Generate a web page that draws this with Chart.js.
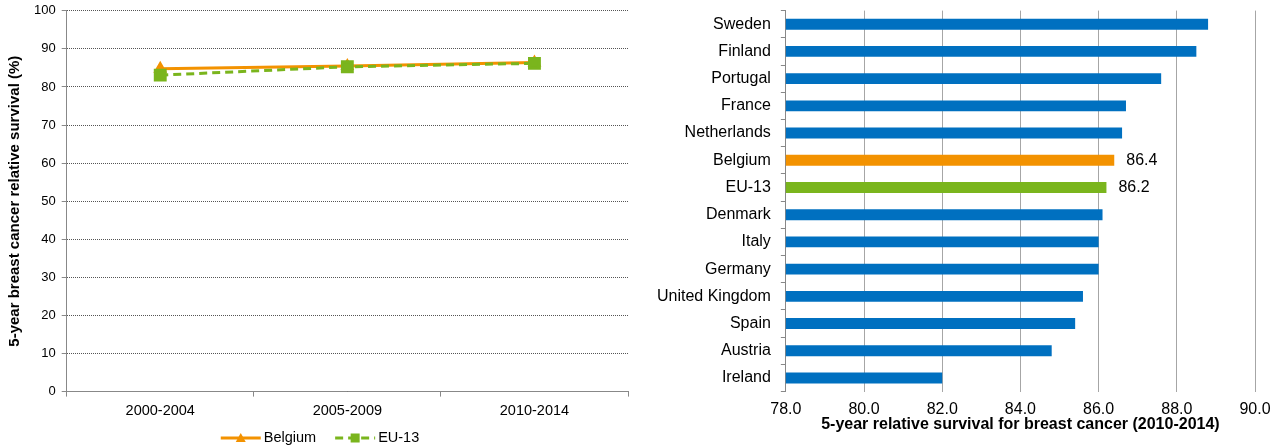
<!DOCTYPE html>
<html>
<head>
<meta charset="utf-8">
<script src="https://cdn.jsdelivr.net/npm/chart.js@4/dist/chart.umd.min.js"></script>
<style>
  body { margin: 0; background: #fff; overflow: hidden; }
  #left { position: absolute; left: 0; top: -3px; width: 640px; height: 451px; }
  #right { position: absolute; left: 640px; top: -9px; width: 640px; height: 457px; }
</style>
</head>
<body>
<div id="left"><canvas id="trendChart"></canvas></div>
<div id="right"><canvas id="rankChart"></canvas></div>
<script>
const periods = ['2000-2004', '2005-2009', '2010-2014'];
const belgiumTrend = [84.8, 85.5, 86.4];
const eu13Trend = [83.1, 85.3, 86.2];

const countries = ['Sweden', 'Finland', 'Portugal', 'France', 'Netherlands', 'Belgium', 'EU-13',
  'Denmark', 'Italy', 'Germany', 'United Kingdom', 'Spain', 'Austria', 'Ireland'];
const survival2014 = [88.8, 88.5, 87.6, 86.7, 86.6, 86.4, 86.2, 86.1, 86.0, 86.0, 85.6, 85.4, 84.8, 82.0];
const labelled = ['Belgium', 'EU-13'];

const orange = '#F39200';
const green = '#7AB51D';
const blue = '#0070C0';
const font = 'Liberation Sans, Arial, sans-serif';

Chart.defaults.font.family = font;
Chart.defaults.color = '#000';

// legend with line + marker, like the spreadsheet one
const lineLegend = {
  id: 'lineLegend',
  afterDraw(chart) {
    const c = chart.ctx;
    const y = chart.height - 10;
    c.save();
    c.font = '14.5px ' + font;
    const items = chart.data.datasets.map(ds => ({ ds: ds, w: 40 + 3 + c.measureText(ds.label).width }));
    const gap = 19;
    let total = items.reduce((s, it) => s + it.w, 0) + gap * (items.length - 1);
    let x = (chart.width - total) / 2;
    items.forEach(it => {
      const ds = it.ds;
      c.strokeStyle = ds.borderColor;
      c.lineWidth = ds.borderWidth;
      c.setLineDash(ds.borderDash || []);
      c.beginPath();
      c.moveTo(x, y);
      c.lineTo(x + 40, y);
      c.stroke();
      c.setLineDash([]);
      c.fillStyle = ds.pointBackgroundColor;
      const mx = x + 20;
      if (ds.pointStyle === 'triangle') {
        c.beginPath();
        c.moveTo(mx, y - 5);
        c.lineTo(mx + 5, y + 4);
        c.lineTo(mx - 5, y + 4);
        c.closePath();
        c.fill();
      } else {
        c.fillRect(mx - 4.5, y - 4.5, 9, 9);
      }
      c.fillStyle = '#000';
      c.textBaseline = 'middle';
      c.fillText(ds.label, x + 43, y);
      x += it.w + gap;
    });
    c.restore();
  }
};

new Chart(document.getElementById('trendChart'), {
  type: 'line',
  data: {
    labels: periods,
    datasets: [
      {
        label: 'Belgium', data: belgiumTrend, order: 1,
        borderColor: orange, backgroundColor: orange, borderWidth: 3,
        pointStyle: 'triangle', pointRadius: 5, pointBackgroundColor: orange, pointBorderColor: orange,
        tension: 0
      },
      {
        label: 'EU-13', data: eu13Trend, order: 0,
        borderColor: green, backgroundColor: green, borderWidth: 3, borderDash: [8, 5],
        pointStyle: 'rect', pointRadius: 7, pointBackgroundColor: green, pointBorderColor: green,
        tension: 0
      }
    ]
  },
  options: {
    responsive: true,
    maintainAspectRatio: false,
    animation: false,
    layout: { padding: { left: 6, right: 12, top: 0, bottom: 22 } },
    plugins: { legend: { display: false }, tooltip: { enabled: false } },
    scales: {
      x: {
        offset: true,
        grid: { offset: true, drawOnChartArea: false, drawTicks: true, tickLength: 5, color: '#888' },
        border: { color: '#888', width: 1 },
        ticks: { font: { size: 14.5 }, padding: 6, color: '#000' }
      },
      y: {
        min: 0, max: 100,
        ticks: { stepSize: 10, font: { size: 13 }, padding: 6, color: '#000' },
        grid: { color: '#555', tickLength: 5, tickColor: '#888', tickBorderDash: [] },
        border: { color: '#888', width: 1, dash: [1, 1] },
        title: {
          display: true, text: '5-year breast cancer relative survival (%)',
          font: { size: 15, weight: 'bold' }, color: '#000', padding: { top: 0, bottom: 4 }
        }
      }
    }
  },
  plugins: [lineLegend]
});

// value labels for the highlighted bars
const barValues = {
  id: 'barValues',
  afterDatasetsDraw(chart) {
    const c = chart.ctx;
    const meta = chart.getDatasetMeta(0);
    c.save();
    c.font = '16px ' + font;
    c.fillStyle = '#000';
    c.textBaseline = 'middle';
    meta.data.forEach((bar, i) => {
      if (labelled.includes(countries[i])) {
        c.fillText(survival2014[i].toFixed(1), bar.x + 12, bar.y);
      }
    });
    c.restore();
  }
};

new Chart(document.getElementById('rankChart'), {
  type: 'bar',
  data: {
    labels: countries,
    datasets: [{
      data: survival2014,
      backgroundColor: countries.map(n => n === 'Belgium' ? orange : n === 'EU-13' ? green : blue),
      borderWidth: 0,
      barPercentage: 0.4,
      categoryPercentage: 1
    }]
  },
  options: {
    indexAxis: 'y',
    responsive: true,
    maintainAspectRatio: false,
    animation: false,
    layout: { padding: { left: 7, right: 25, top: 0, bottom: 14 } },
    plugins: { legend: { display: false }, tooltip: { enabled: false } },
    scales: {
      x: {
        min: 78, max: 90,
        ticks: { stepSize: 2, font: { size: 16 }, color: '#000', padding: 8, callback: v => v.toFixed(1) },
        grid: { color: '#a6a6a6', drawTicks: false },
        border: { display: false },
        title: {
          display: true, text: '5-year relative survival for breast cancer (2010-2014)',
          font: { size: 16, weight: 'bold' }, color: '#000', padding: { top: -12, bottom: 0 }
        }
      },
      y: {
        grid: { offset: true, drawOnChartArea: false, tickLength: 5, color: '#888' },
        border: { color: '#888', width: 1 },
        ticks: { font: { size: 16 }, color: '#000', padding: 10 }
      }
    }
  },
  plugins: [barValues]
});
</script>
</body>
</html>
